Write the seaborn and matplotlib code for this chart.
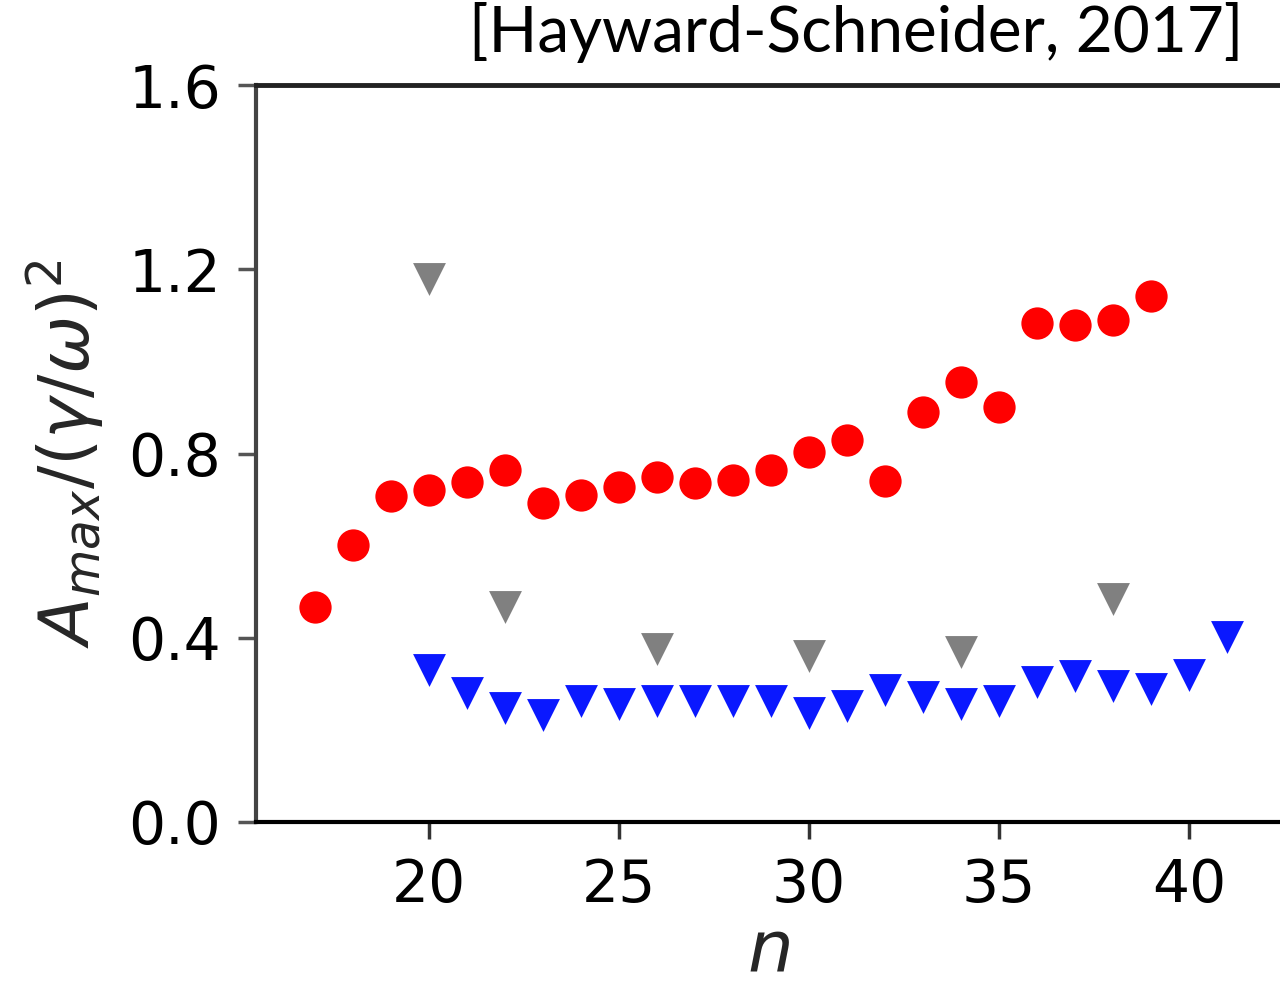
import numpy as np
import pandas as pd
import matplotlib
matplotlib.use("Agg")
import matplotlib.pyplot as plt
import seaborn as sns

# ---- data ----
red_n = list(range(17, 40))
red_vals = [0.467, 0.601, 0.708, 0.721, 0.738, 0.764, 0.693, 0.710, 0.727, 0.749,
            0.736, 0.742, 0.764, 0.803, 0.829, 0.740, 0.890, 0.955, 0.901, 1.083,
            1.079, 1.090, 1.142]

blue_n = list(range(20, 42))
blue_vals = [0.329, 0.279, 0.247, 0.232, 0.263, 0.256, 0.263, 0.263, 0.263, 0.263,
             0.236, 0.251, 0.287, 0.271, 0.256, 0.263, 0.304, 0.316, 0.296, 0.288,
             0.319, 0.401]

gray_n = [20, 22, 26, 30, 34, 38]
gray_vals = [1.178, 0.466, 0.376, 0.360, 0.369, 0.485]

yticks = [0.0, 0.4, 0.8, 1.2, 1.6]
yticklabels = ["0.0", "0.4", "0.8", "1.2", "1.6"]
xticks = [20, 25, 30, 35, 40]
xticklabels = ["20", "25", "30", "35", "40"]
citation = "[Hayward-Schneider, 2017]"

sns.set_theme(style="white")
plt.rcParams["font.family"] = ["DejaVu Sans"]
plt.rcParams["mathtext.fontset"] = "dejavusans"

fig = plt.figure(figsize=(12.8, 9.9), dpi=100)
ax = fig.add_axes([0.2, 0.1697, 0.8, 0.7444])

red_df = pd.DataFrame({"n": red_n, "A": red_vals})
blue_df = pd.DataFrame({"n": blue_n, "A": blue_vals})
gray_df = pd.DataFrame({"n": gray_n, "A": gray_vals})

sns.scatterplot(data=gray_df, x="n", y="A", ax=ax, color="#808080", marker="v",
                s=560, linewidth=0, zorder=3)
sns.scatterplot(data=blue_df, x="n", y="A", ax=ax, color="#0a18ff", marker="v",
                s=560, linewidth=0, zorder=3)
sns.scatterplot(data=red_df, x="n", y="A", ax=ax, color="#ff0000", marker="o",
                s=540, linewidth=0, zorder=3)

ax.set_xlim(15.447, 42.39)
ax.set_ylim(0, 1.6)
ax.set_xticks(xticks)
ax.set_xticklabels(xticklabels)
ax.set_yticks(yticks)
ax.set_yticklabels(yticklabels)

ax.tick_params(axis="both", labelsize=42, labelcolor="#000000", direction="out",
               bottom=True, left=True, top=False, right=False)
ax.tick_params(axis="x", length=12, width=2.5, pad=13, color="#333333")
ax.tick_params(axis="y", length=13, width=2.5, pad=12, color="#555555")

for side in ["left", "bottom", "top"]:
    ax.spines[side].set_visible(True)
ax.spines["right"].set_visible(False)
ax.spines["top"].set_linewidth(3.5)
ax.spines["top"].set_color("#222222")
ax.spines["left"].set_linewidth(3.0)
ax.spines["left"].set_color("#444444")
ax.spines["bottom"].set_linewidth(3.0)
ax.spines["bottom"].set_color("#000000")

ax.set_xlabel(r"$n$", fontsize=52, labelpad=2)
ax.set_ylabel(r"$A_{max}/(\gamma/\omega)^2$", fontsize=50, labelpad=16)

fig.text(1243 / 1280, 1 - 2 / 990, citation, ha="right", va="top",
         fontsize=46, family=["Lato", "DejaVu Sans"], color="black")

fig.savefig("out.png", dpi=100)
